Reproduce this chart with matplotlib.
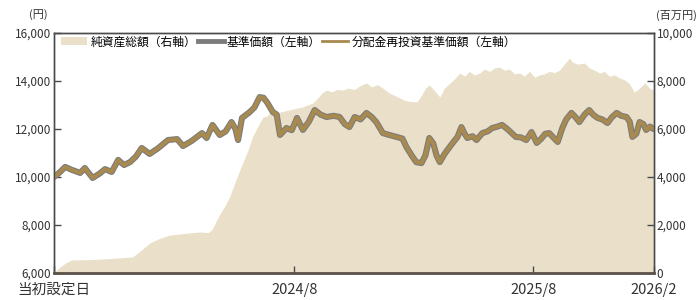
import pandas as pd
import numpy as np
import matplotlib.pyplot as plt
from matplotlib.patches import Patch
from matplotlib.lines import Line2D

plt.rcParams['font.family'] = ['Noto Sans CJK JP', 'DejaVu Sans']

# launch date and readings (days since launch)
launch = pd.Timestamp('2023-07-31')

nav_days = [0, 9, 17, 27, 40, 47, 59, 70, 78, 88, 98, 107, 116, 125, 134, 146, 159, 174, 188, 197,
            210, 226, 233, 242, 253, 262, 271, 277, 281, 287, 299, 306, 314, 320, 326, 334, 340, 345,
            355, 363, 371, 380, 389, 398, 407, 416, 427, 436, 444, 451, 459, 468, 477, 485, 492, 502,
            512, 523, 532, 538, 546, 553, 561, 567, 573, 579, 584, 589, 596, 604, 611, 616, 622, 627,
            631, 639, 645, 654, 662, 669, 677, 684, 692, 698, 705, 713, 721, 729, 737, 744, 750, 756,
            764, 769, 776, 782, 790, 796, 802, 810, 817, 823, 830, 837, 845, 852, 859, 866, 874, 879,
            883, 889, 894, 900, 904, 910, 915]
nav = [10000, 10200, 10420, 10300, 10170, 10375, 9960, 10150, 10330, 10210, 10710, 10500, 10620,
       10850, 11210, 10960, 11200, 11540, 11580, 11290, 11500, 11830, 11625, 12170, 11750, 11900,
       12290, 12000, 11540, 12460, 12710, 12900, 13330, 13300, 13080, 12710, 12600, 11750, 12040,
       11950, 12460, 11960, 12300, 12790, 12600, 12500, 12550, 12500, 12200, 12080, 12500, 12400,
       12670, 12500, 12290, 11830, 11750, 11670, 11600, 11250, 10900, 10620, 10580, 10900, 11625,
       11400, 10900, 10620, 10950, 11250, 11500, 11670, 12080, 11800, 11625, 11700, 11540, 11830,
       11900, 12040, 12100, 12170, 12000, 11850, 11670, 11650, 11540, 11875, 11420, 11600, 11800,
       11830, 11600, 11460, 12040, 12400, 12670, 12500, 12290, 12600, 12790, 12600, 12460, 12400,
       12250, 12500, 12670, 12550, 12500, 12300, 11670, 11800, 12290, 12200, 11960, 12100, 12000]
# reinvested NAV (no distributions paid -> same as NAV)
nav_reinv = nav

aum_days = [0, 3, 9, 18, 27, 55, 85, 120, 131, 146, 162, 177, 200, 223, 235, 241, 250, 261, 268,
            278, 288, 296, 303, 311, 319, 326, 332, 340, 352, 368, 380, 387, 395, 403, 409, 416, 424,
            432, 441, 448, 459, 467, 477, 485, 494, 502, 512, 520, 528, 535, 543, 554, 561, 567, 573,
            581, 589, 596, 604, 612, 619, 627, 634, 642, 650, 657, 665, 673, 680, 688, 695, 703, 711,
            718, 726, 734, 741, 749, 756, 764, 772, 779, 787, 791, 799, 810, 817, 825, 833, 840, 848,
            856, 863, 871, 878, 886, 894, 902, 909, 915]
aum = [0, 100, 250, 420, 540, 560, 600, 670, 900, 1250, 1450, 1580, 1650, 1710, 1680, 1800, 2300,
       2800, 3170, 3900, 4580, 5100, 5670, 6100, 6500, 6550, 6800, 6670, 6750, 6850, 6920, 7000, 7080,
       7300, 7500, 7620, 7550, 7650, 7620, 7700, 7650, 7800, 7920, 7750, 7850, 7700, 7500, 7400, 7290,
       7200, 7150, 7130, 7400, 7700, 7830, 7600, 7330, 7700, 7900, 8100, 8330, 8200, 8400, 8250, 8330,
       8500, 8400, 8550, 8580, 8450, 8500, 8300, 8330, 8200, 8400, 8150, 8250, 8300, 8400, 8350, 8460,
       8700, 8960, 8800, 8700, 8750, 8550, 8450, 8330, 8400, 8200, 8250, 8130, 8050, 7900, 7540, 7700,
       7920, 7700, 7620]

nav_dates = launch + pd.to_timedelta(nav_days, unit='D')
aum_dates = launch + pd.to_timedelta(aum_days, unit='D')

fill_c = '#EAE0C9'
gold = '#A88A4F'
gray = '#7C7C7C'
axc = '#4A4A4A'
txt = '#333333'

fig = plt.figure(figsize=(6.98, 3.0), dpi=100)
ax = fig.add_axes([54 / 698, 27 / 300, 600 / 698, 240 / 300])
ax2 = ax.twinx()

ax2.fill_between(aum_dates, 0, aum, color=fill_c, lw=0)
ax2.set_ylim(0, 10000)
rticks = [0, 2000, 4000, 6000, 8000, 10000]
ax2.set_yticks(rticks)
ax2.set_yticklabels([f'{v:,}' for v in rticks])

ax.set_zorder(ax2.get_zorder() + 1)
ax.patch.set_visible(False)
ax.plot(nav_dates, nav, color=gray, lw=4.4, solid_capstyle='round', solid_joinstyle='round')
ax.plot(nav_dates, nav_reinv, color=gold, lw=2.8, solid_capstyle='round', solid_joinstyle='round')
ax.set_ylim(6000, 16000)
lticks = [6000, 8000, 10000, 12000, 14000, 16000]
ax.set_yticks(lticks)
ax.set_yticklabels([f'{v:,}' for v in lticks])

xt = [launch, pd.Timestamp('2024-08-01'), pd.Timestamp('2025-08-01'), pd.Timestamp('2026-02-01')]
ax.set_xlim(launch, pd.Timestamp('2026-02-01'))
ax.set_xticks(xt)
ax.set_xticklabels(['当初設定日', '2024/8', '2025/8', '2026/2'])

for a in (ax, ax2):
    a.tick_params(direction='in', length=5, width=1, colors=axc, labelsize=8.5, labelcolor=txt, pad=2)
    for s in a.spines.values():
        s.set_color(axc)
        s.set_linewidth(1.0)
ax.tick_params(axis='x', pad=7, labelsize=10.5)
ax.spines['bottom'].set_linewidth(2.0)
ax.spines['bottom'].set_color('#5A5248')
ax2.spines['bottom'].set_visible(False)

fig.text(38 / 698, 1 - 15 / 300, '(円)', fontsize=8, ha='center', va='center', color=txt)
fig.text(676 / 698, 1 - 15 / 300, '(百万円)', fontsize=8, ha='center', va='center', color=txt)

handles = [Patch(facecolor=fill_c, edgecolor='none'),
           Line2D([], [], color=gray, lw=3.5),
           Line2D([], [], color=gold, lw=2.0)]
labels = ['純資産総額（右軸）', '基準価額（左軸）', '分配金再投資基準価額（左軸）']
ax.legend(handles, labels, loc='upper left', bbox_to_anchor=(0.0, 1.02), ncol=3, frameon=False,
          fontsize=8.5, handlelength=2.2, handletextpad=0.3, columnspacing=0.1, borderaxespad=0.2)

fig.savefig('out.png', dpi=100)
